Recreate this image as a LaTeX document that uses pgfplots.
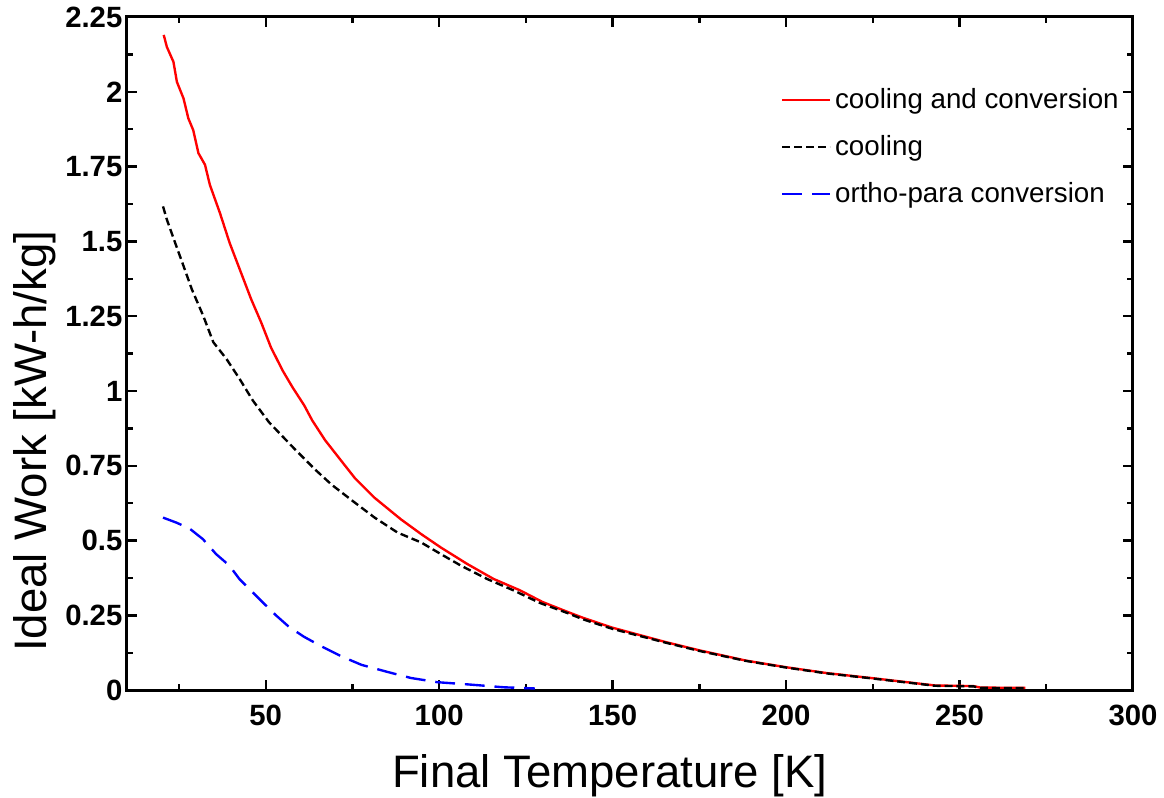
\documentclass[border=0pt]{standalone}
\usepackage{fontspec}
\setmainfont{Liberation Sans}
\usepackage{pgfplots}
\pgfplotsset{compat=1.18}
\definecolor{CurveRed}{HTML}{FF0000}
\definecolor{CurveBlue}{HTML}{0000FF}

\begin{document}
\begin{tikzpicture}
  \begin{axis}[
      scale only axis,
      width=508pt,height=340pt,
      xmin=10,xmax=300,ymin=0,ymax=2.25,
      xtick={50,100,150,200,250,300},
      minor xtick={25,75,125,175,225,275},
      ytick={0,0.25,0.5,0.75,1,1.25,1.5,1.75,2,2.25},
      yticklabels={0,0.25,0.5,0.75,1,1.25,1.5,1.75,2,2.25},
      minor ytick={0.125,0.375,0.625,0.875,1.125,1.375,1.625,1.875,2.125},
      tick align=inside,
      major tick length=5pt,minor tick length=3pt,
      axis line style={line width=1.5pt},
      every tick/.style={black,line width=1.2pt},
      /pgf/number format/assume math mode=true,
      tick label style={font=\fontsize{14.8}{17}\selectfont\bfseries},
      xticklabel style={yshift=-4pt},
      yticklabel style={xshift=1.2pt},
      xlabel={Final Temperature [K]},
      ylabel={Ideal Work [kW-h/kg]},
      label style={font=\fontsize{23}{27}\selectfont,inner sep=0pt},
      xlabel style={at={(ticklabel cs:0.48)},yshift=-11pt},
      ylabel style={at={(ticklabel cs:0.37)},inner ysep=7pt,yshift=-6pt},
      legend style={draw=none,fill=none,at={(0.65,0.9)},anchor=north west,
        font=\fontsize{14}{16.5}\selectfont,row sep=8pt,inner sep=0pt},
      legend cell align=left,
      legend image code/.code={\draw[#1] (0pt,0pt) -- (24pt,0pt);},
    ]
    \addplot[CurveRed,line width=1.2pt] coordinates {
      (20.6,2.19) (21.5,2.15) (23.4,2.10) (24.4,2.033) (26.3,1.978)
      (27.7,1.911) (29.1,1.872) (30.6,1.795) (32.5,1.756) (33.9,1.689)
      (36.8,1.595) (39.6,1.495) (42.5,1.407) (45.8,1.307) (48.7,1.229)
      (51.5,1.146) (54.9,1.068) (57.7,1.013) (61.1,0.952) (63.4,0.902)
      (67.1,0.836) (71.9,0.765) (75.7,0.709) (81.4,0.643) (89,0.571)
      (94.8,0.522) (100.5,0.477) (108.1,0.422) (115.7,0.372) (123.3,0.334)
      (129.8,0.295) (137,0.262) (141.5,0.242) (150,0.209) (165,0.162)
      (174.8,0.134) (188.5,0.099) (200,0.077) (212,0.057) (224.5,0.041)
      (231.9,0.031) (243,0.016) (254,0.014) (256,0.009) (269,0.008)
    };
    \addplot[black,line width=1.2pt,dash pattern=on 4pt off 2pt] coordinates {
      (20.4,1.617) (21.5,1.573) (23.9,1.495) (26.3,1.418) (28.7,1.340)
      (32,1.251) (34.9,1.163) (38.7,1.107) (42.5,1.040) (46.3,0.968)
      (51,0.895) (58.6,0.803) (64.3,0.737) (69,0.687) (75.7,0.627)
      (81.4,0.577) (88,0.527) (94.8,0.494) (100.5,0.455) (106.2,0.417)
      (113.8,0.372) (121.4,0.334) (129,0.292) (137,0.258) (141.5,0.237)
      (150,0.205) (165,0.160) (174.8,0.132) (188.5,0.098) (200,0.076)
      (212,0.056) (224.5,0.040) (231.9,0.030) (243,0.015) (254,0.013)
      (256,0.008) (269,0.007)
    };
    \addplot[CurveBlue,line width=1.2pt,dash pattern=on 10pt off 5pt] coordinates {
      (20.4,0.577) (24.3,0.56) (28.1,0.54) (31.9,0.505) (35.7,0.455)
      (39.5,0.417) (42.4,0.372) (46.2,0.328) (50,0.284) (52.9,0.251)
      (56.7,0.212) (61,0.179) (66.2,0.146) (71.9,0.113) (77.6,0.085)
      (85.2,0.061) (91.9,0.041) (99.5,0.027) (109,0.019) (118.6,0.010)
      (127.6,0.006)
    };
    \legend{cooling and conversion,cooling,ortho-para conversion}
  \end{axis}
\end{tikzpicture}
\end{document}
